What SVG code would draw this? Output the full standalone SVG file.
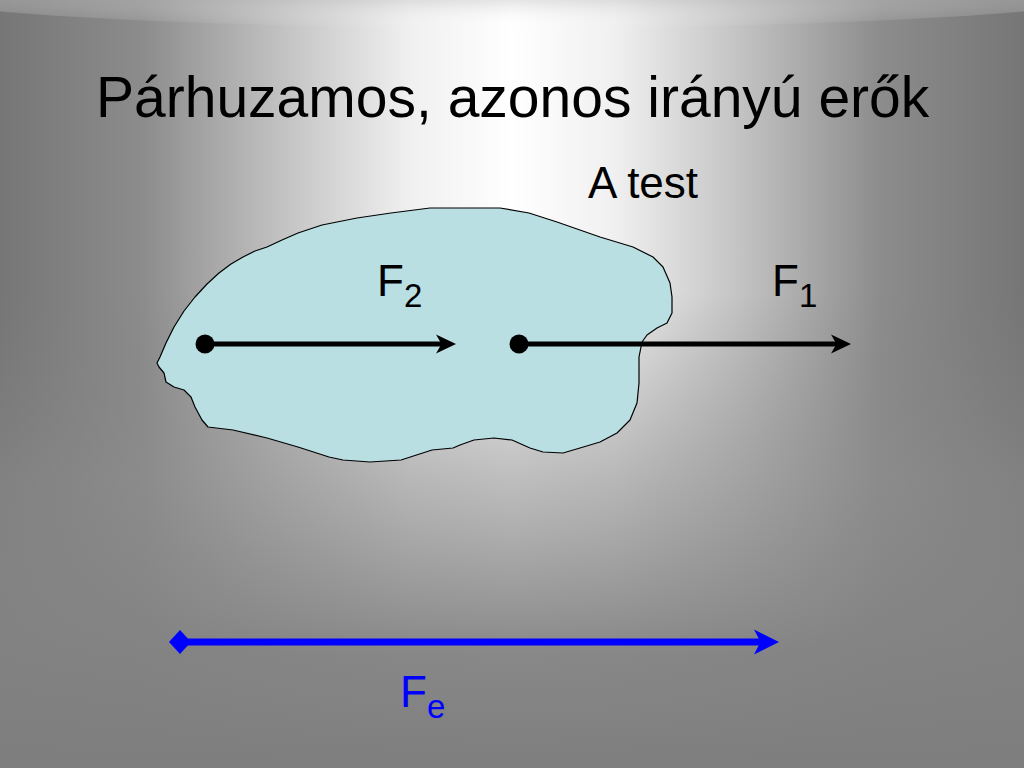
<svg xmlns="http://www.w3.org/2000/svg" width="1024" height="768" viewBox="0 0 1024 768">
  <defs>
    <linearGradient id="bgH" x1="0" y1="0" x2="1" y2="0">
      <stop offset="0" stop-color="#767676"/>
      <stop offset="0.14" stop-color="#8c8c8c"/>
      <stop offset="0.28" stop-color="#c4c4c4"/>
      <stop offset="0.40" stop-color="#f0f0f0"/>
      <stop offset="0.5" stop-color="#ffffff"/>
      <stop offset="0.60" stop-color="#f0f0f0"/>
      <stop offset="0.72" stop-color="#c4c4c4"/>
      <stop offset="0.86" stop-color="#8c8c8c"/>
      <stop offset="1" stop-color="#767676"/>
    </linearGradient>
    <linearGradient id="bgV" x1="0" y1="0" x2="0" y2="1">
      <stop offset="0" stop-color="#808080" stop-opacity="0"/>
      <stop offset="0.38" stop-color="#808080" stop-opacity="0"/>
      <stop offset="0.62" stop-color="#8a8a8a" stop-opacity="0.55"/>
      <stop offset="0.85" stop-color="#828282" stop-opacity="0.95"/>
      <stop offset="1" stop-color="#7e7e7e" stop-opacity="1"/>
    </linearGradient>
    <linearGradient id="topShade" x1="0" y1="0" x2="0" y2="1">
      <stop offset="0" stop-color="#767676" stop-opacity="1"/>
      <stop offset="0.3" stop-color="#8a8a8a" stop-opacity="0.8"/>
      <stop offset="1" stop-color="#ffffff" stop-opacity="0"/>
    </linearGradient>
    <style>
      .lbl { font-family: "Liberation Sans", Arial, sans-serif; font-size: 44px; fill: #000; }
      .blue { fill: #0000ff; }
      .sub { font-size: 33px; }
      .blob { fill: #b9dfe3; stroke: #000; stroke-width: 1.2; stroke-linejoin: round; }
      .shaft { stroke: #000; stroke-width: 5; fill: none; }
      .head { fill: #000; }
    </style>
  </defs>

  <!-- background -->
  <rect x="0" y="0" width="1024" height="768" fill="url(#bgH)"/>
  <rect x="0" y="0" width="1024" height="768" fill="url(#bgV)"/>
  <ellipse cx="512" cy="-10" rx="620" ry="38" fill="url(#topShade)"/>

  <!-- title -->
  <text x="96" y="117" style="font-family: 'Liberation Sans', Arial, sans-serif; font-size: 57px; fill: #000;">Párhuzamos, azonos irányú erők</text>

  <g id="body">
    <path class="blob" d="M157,363 L160,357 L166,343 L174,327 L184,311 L195,297 L207,284 L219,273 L231,264 L243,257 L255,251 L267,247 L282,240 L298,233 L322,225 L357,218 L391,213 L430,208 L481,208 L500,208 L529,213 L557,222 L600,237 L633,247 L653,257 L663,267 L670,283 L672,297 L672,313 L667,323 L657,328 L647,335 L642,342 L639,357 L639,383 L637,403 L630,420 L617,433 L600,442 L580,448 L563,453 L543,452 L530,448 L512,440 L494,438 L474,440 L460,445 L453,448 L432,450 L401,460 L370,462 L343,460 L329,457 L298,447 L267,438 L233,430 L208,427 L202,420 L195,407 L191,397 L184,390 L174,387 L166,382 L164,373 L159,367 Z"/>
  </g>

  <g id="label-test">
    <text class="lbl" x="588" y="198">A test</text>
  </g>

  <g id="label-F2">
    <text class="lbl" x="377" y="296">F<tspan class="sub" dy="11">2</tspan></text>
  </g>

  <g id="label-F1">
    <text class="lbl" x="772" y="296">F<tspan class="sub" dy="11">1</tspan></text>
  </g>

  <g id="label-Fe">
    <text class="lbl blue" x="400" y="707">F<tspan class="sub" dy="11">e</tspan></text>
  </g>

  <g id="connectors">
    <!-- F2 -->
    <g id="arrow-F2">
      <circle cx="205" cy="344" r="9.5" fill="#000"/>
      <line class="shaft" x1="205" y1="344" x2="444" y2="344"/>
      <path class="head" d="M456,344 L436,334.5 L441.5,344 L436,353.5 Z"/>
    </g>
    <!-- F1 -->
    <g id="arrow-F1">
      <circle cx="519" cy="344" r="9.5" fill="#000"/>
      <line class="shaft" x1="519" y1="344" x2="839" y2="344"/>
      <path class="head" d="M851,344 L831,334.5 L836.5,344 L831,353.5 Z"/>
    </g>
    <!-- Fe -->
    <g id="arrow-Fe">
      <path d="M169,642 L180,630 L191,642 L180,654 Z" fill="#0000ff"/>
      <line x1="180" y1="642" x2="764" y2="642" stroke="#0000ff" stroke-width="7"/>
      <path d="M779,642 L754,629.5 L760.5,642 L754,654.5 Z" fill="#0000ff"/>
    </g>
  </g>
</svg>
